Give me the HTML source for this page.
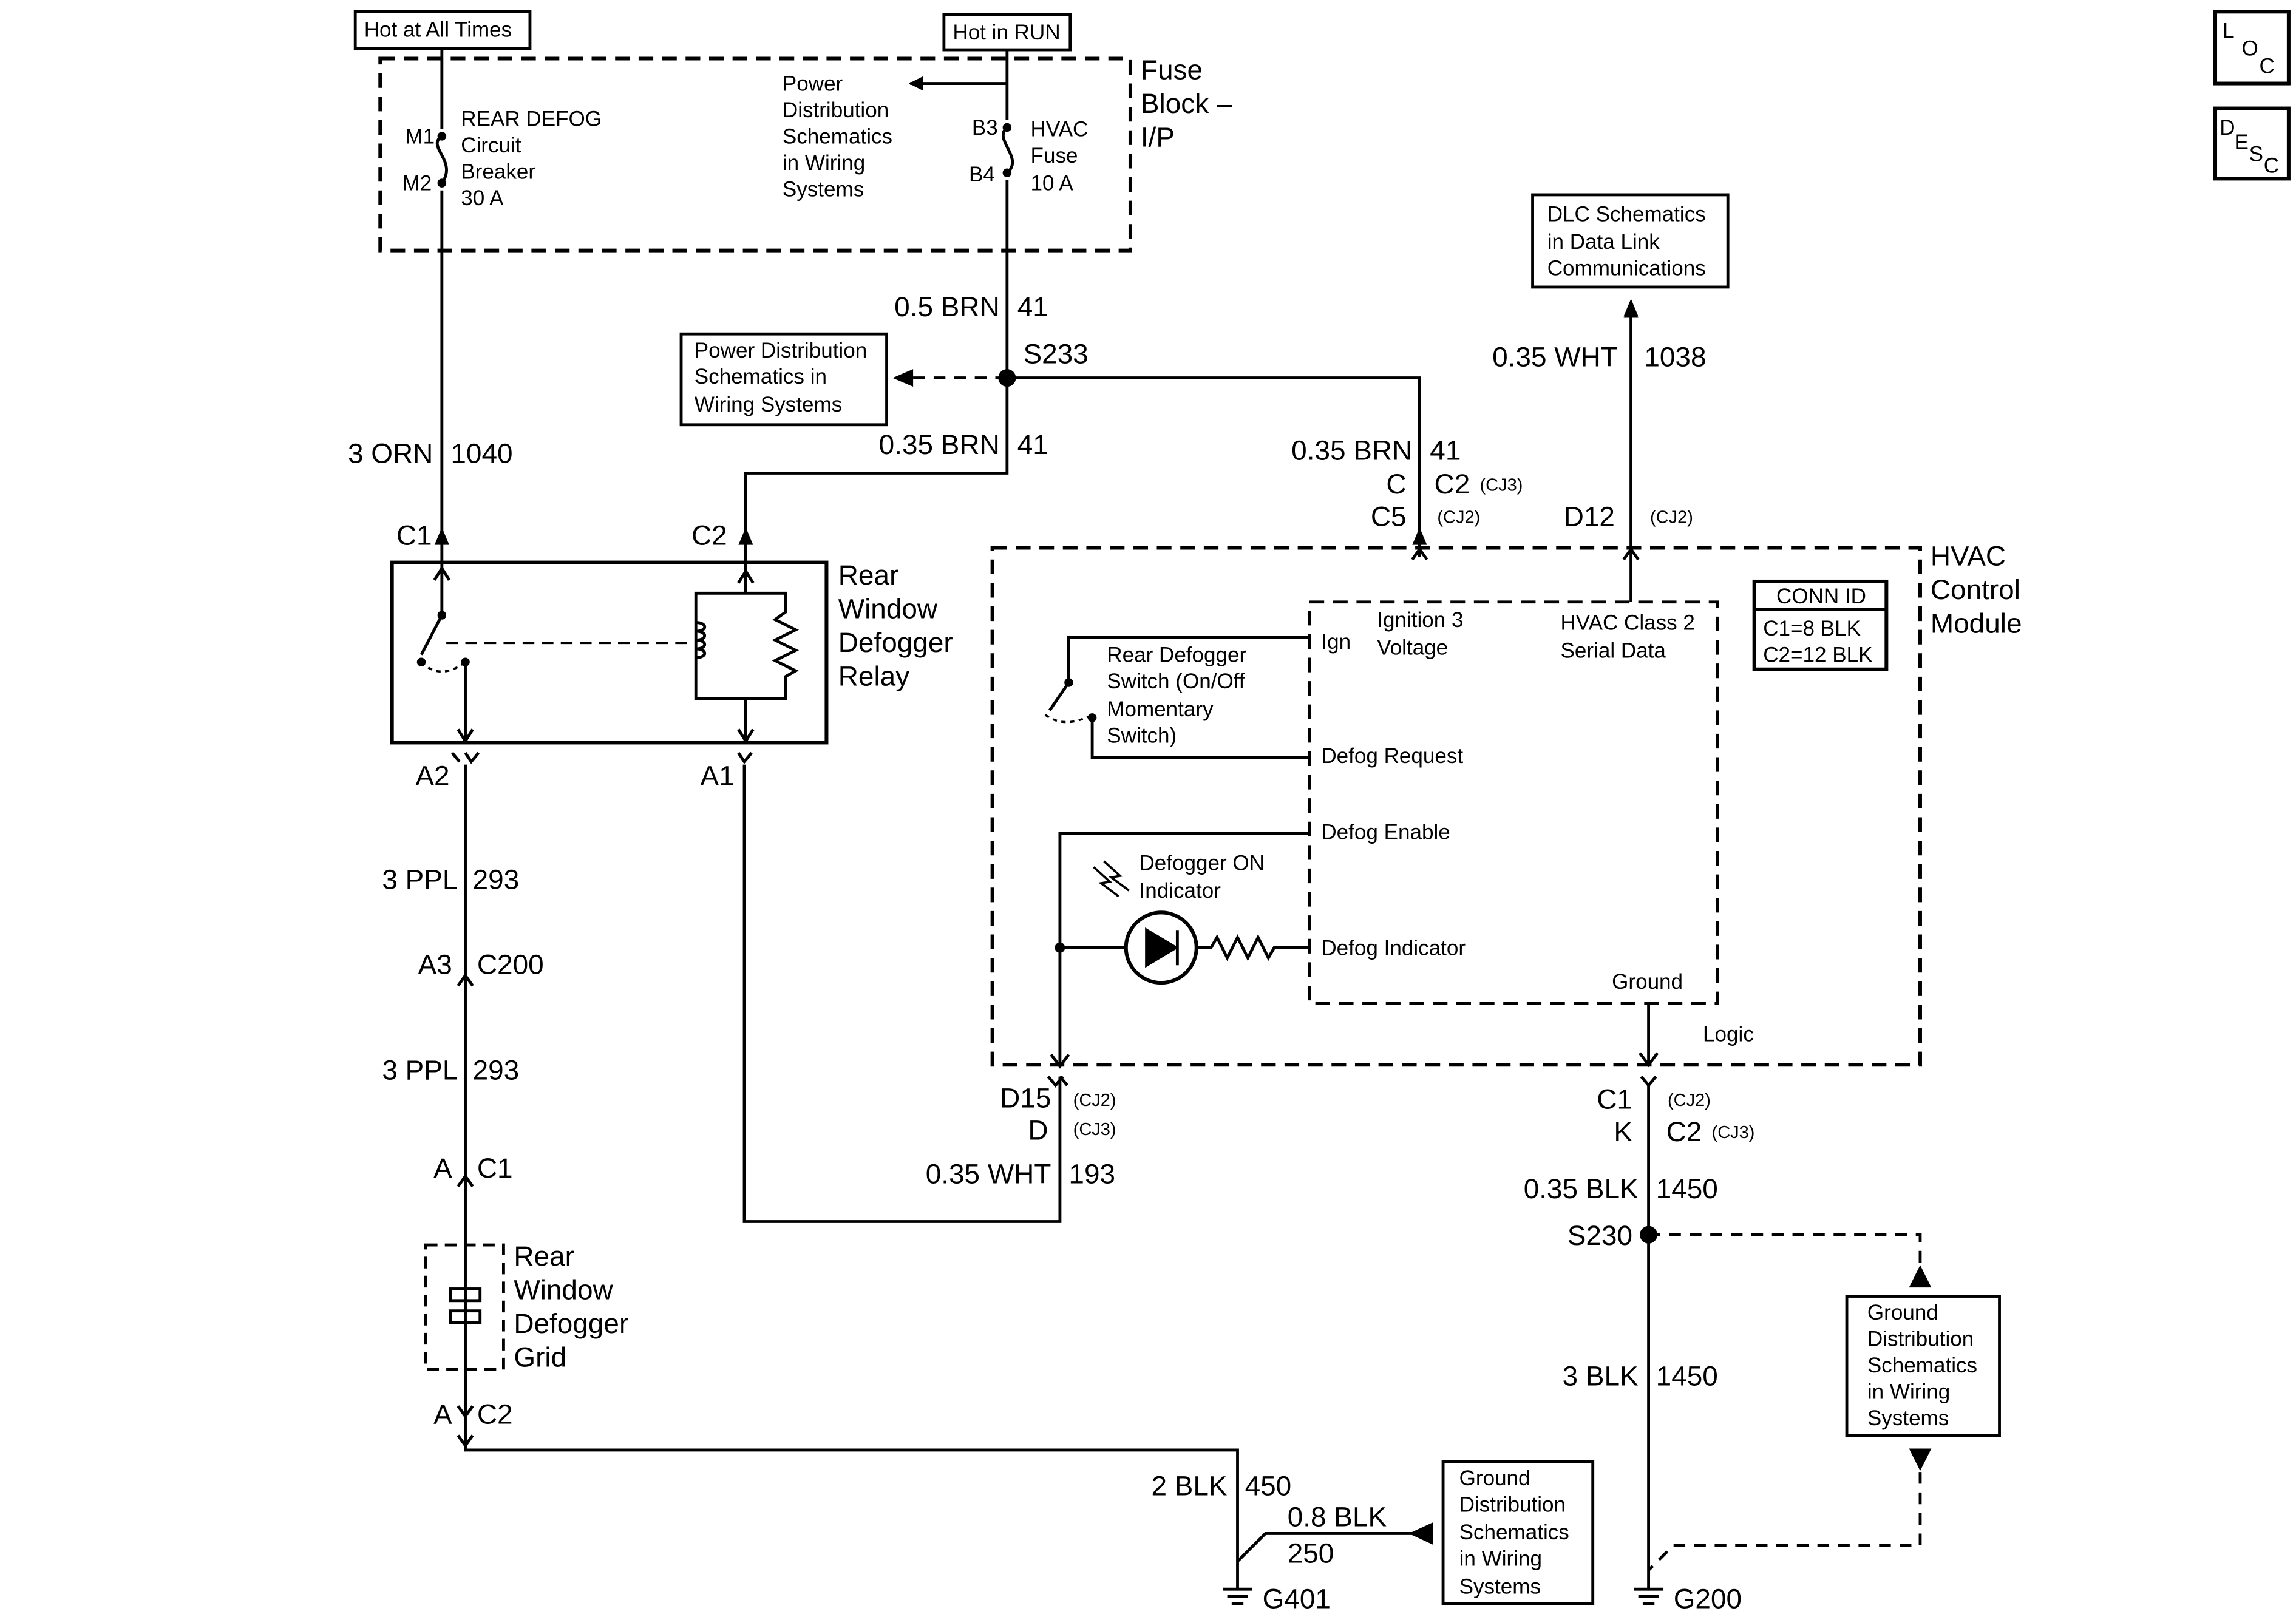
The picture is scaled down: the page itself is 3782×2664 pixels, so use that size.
<!DOCTYPE html>
<html><head><meta charset="utf-8"><style>
html,body{margin:0;padding:0;background:#fff;}
svg{display:block;}
text{font-family:"Liberation Sans",Arial,sans-serif;fill:#000;}
.L{font-size:19px;}
.S{font-size:14.5px;}
.X{font-size:12px;}
</style></head><body>
<svg width="3782" height="2664" viewBox="0 0 1564 1104" preserveAspectRatio="none" xmlns="http://www.w3.org/2000/svg">
<defs>
<marker id="ah" markerWidth="10" markerHeight="10" refX="9" refY="5" orient="auto" markerUnits="userSpaceOnUse"><path d="M0,0 L10,5 L0,10 z" fill="#000"/></marker>
</defs>
<g stroke="#000" stroke-width="2" fill="none">
<rect x="242" y="8" width="119" height="25"/>
<rect x="643" y="10" width="86" height="24"/>
<rect x="259" y="40" width="511" height="131" stroke-dasharray="10,6" stroke-width="2.5"/>
<path d="M301,33 V88 M301,130 V380"/>
<path d="M301,93 C290,100 312,110 301,125"/>
<path d="M686,34 V82 M686,123 V323 H508 V380"/>
<path d="M686,87 C676,95 698,108 686,118"/>
<path d="M686,57 H620" marker-end="url(#ah)"/>
<path d="M686,258 H620" stroke-dasharray="8,6"/>
<path d="M686,258 H967 V380"/>
<rect x="464" y="228" width="140" height="62"/>
<rect x="1044" y="133" width="133" height="63"/>
<path d="M1111,411 V208" marker-end="url(#ah)"/>
<rect x="267" y="384" width="296" height="123" stroke-width="2.5"/>
<path d="M301,380 V420 L287,447"/>
<path d="M301,388 L296,396 M301,388 L306,396"/>
<path d="M304,439 H468" stroke-dasharray="8,5" stroke-width="1.5"/>
<path d="M287,452 Q300,465 317,452" stroke-dasharray="3,3" stroke-width="1.5"/>
<path d="M317,452 V505"/>
<path d="M312,498 L317,506 L322,498"/>
<path d="M508,380 V405 H474 V477 H508 V507 M508,405 H535 V418 L528,423 L542,430 L528,437 L542,444 L528,451 L542,458 L535,462 V477 H508"/>
<path d="M474,425 c8,0 8,6 0,6 c8,0 8,6 0,6 c8,0 8,6 0,6 c8,0 8,6 0,6"/>
<path d="M503,398 L508,390 L513,398"/>
<path d="M503,498 L508,506 L513,498"/>
<path d="M317,514 L321,520 L326,514 M308,514 L313,520 M317,522 V990 H843 V1085"/>
<path d="M312,673 L317,666 L322,673 M312,810 L317,803 L322,810"/>
<path d="M312,960 L317,967 L322,960 M312,980 L317,987 L322,980"/>
<rect x="290" y="850" width="53" height="85" stroke-dasharray="8,5"/>
<rect x="307" y="880" width="20" height="8"/><rect x="307" y="895" width="20" height="8"/>
<path d="M317,935 V960"/>
<path d="M507,522 V834 H722 V735"/>
<path d="M503,514 L507,520 L512,514"/>
<path d="M843,1066 L862,1047 H962" />
<path d="M975,1041 L962,1047 L975,1053 z" fill="#000"/>
<rect x="983" y="998" width="102" height="97"/>
<path d="M833,1085 H853 M836,1090 H850 M839,1095 H847"/>
<rect x="676" y="374" width="632" height="353" stroke-dasharray="10,6" stroke-width="2.5"/>
<rect x="892" y="411" width="278" height="274" stroke-dasharray="10,6" stroke-width="2"/>
<rect x="1195" y="397" width="90" height="60" stroke-width="2.5"/>
<path d="M1195,416 H1285"/>
<path d="M962,382 L967,375 L972,382 M1106,382 L1111,375 L1116,382"/>
<path d="M892,435 H728 V466 L715,485"/>
<path d="M892,517 H744 V490"/>
<path d="M712,488 Q725,498 744,488" stroke-dasharray="3,3" stroke-width="1.5"/>
<path d="M892,569 H722 V727"/>
<path d="M716,720 L722,728 L728,720"/>
<path d="M722,647 H767 M815,647 H825 L829,640 L836,654 L843,640 L850,654 L857,640 L864,654 L868,647 H892"/>
<circle cx="791" cy="647" r="24" stroke-width="2.5"/>
<path d="M781,635 L801,647 L781,659 z" fill="#000"/><path d="M802,635 V659"/>
<path d="M745,592 L756,602 L750,603 L762,612 M752,588 L763,598 L757,599 L769,608" stroke-width="1.5"/>
<path d="M1123,685 V727"/>
<path d="M1117,719 L1123,727 L1129,719"/>
<path d="M1118,735 L1123,741 L1128,735 M714,735 L719,741 L724,735 M722,735 L727,741"/>
<path d="M1123,741 V1085 M1113,1085 H1133 M1116,1090 H1130 M1119,1095 H1127"/>
<path d="M1123,843 H1308 V880" stroke-dasharray="8,6"/>
<path d="M1302,878 L1308,866 L1314,878 z" fill="#000"/>
<rect x="1258" y="885" width="104" height="95"/>
<path d="M1302,990 L1308,1002 L1314,990 z" fill="#000"/>
<path d="M1308,1005 V1055 H1140 L1123,1072" stroke-dasharray="8,6"/>
<rect x="1509" y="8" width="50" height="49" stroke-width="2.5"/>
<rect x="1509" y="74" width="50" height="48" stroke-width="2.5"/>
</g>
<g fill="#000">
<circle cx="301" cy="93" r="3"/><circle cx="301" cy="125" r="3"/>
<circle cx="686" cy="87" r="3"/><circle cx="686" cy="118" r="3"/>
<circle cx="686" cy="258" r="6"/><circle cx="1123" cy="843" r="6"/>
<circle cx="722" cy="647" r="3.5"/><circle cx="301" cy="420" r="3"/><circle cx="317" cy="452" r="3"/>
<circle cx="728" cy="466" r="3"/><circle cx="744" cy="490" r="3"/><circle cx="287" cy="452" r="3"/>
<path d="M608,258 L622,252 L622,264 z"/>
<path d="M296,372 L301,360 L306,372 z"/><path d="M503,372 L508,360 L513,372 z"/><path d="M962,372 L967,360 L972,372 z"/>
<path d="M1106,216 L1111,204 L1116,216 z"/>
</g>
<text class="S" x="248" y="25">Hot at All Times</text>
<text class="S" x="649" y="27">Hot in RUN</text>
<text class="L" x="777" y="54">Fuse</text><text class="L" x="777" y="77">Block –</text><text class="L" x="777" y="100">I/P</text>
<text class="S" x="276" y="98">M1</text><text class="S" x="274" y="130">M2</text>
<text class="S" x="314" y="86">REAR DEFOG</text><text class="S" x="314" y="104">Circuit</text><text class="S" x="314" y="122">Breaker</text><text class="S" x="314" y="140">30 A</text>
<text class="S" x="533" y="62">Power</text><text class="S" x="533" y="80">Distribution</text><text class="S" x="533" y="98">Schematics</text><text class="S" x="533" y="116">in Wiring</text><text class="S" x="533" y="134">Systems</text>
<text class="S" x="662" y="92">B3</text><text class="S" x="660" y="124">B4</text>
<text class="S" x="702" y="93">HVAC</text><text class="S" x="702" y="111">Fuse</text><text class="S" x="702" y="130">10 A</text>
<text class="L" x="681" y="216" text-anchor="end">0.5 BRN</text><text class="L" x="693" y="216">41</text>
<text class="L" x="697" y="248">S233</text>
<text class="S" x="473" y="244">Power Distribution</text><text class="S" x="473" y="262">Schematics in</text><text class="S" x="473" y="281">Wiring Systems</text>
<text class="L" x="681" y="310" text-anchor="end">0.35 BRN</text><text class="L" x="693" y="310">41</text>
<text class="L" x="295" y="316" text-anchor="end">3 ORN</text><text class="L" x="307" y="316">1040</text>
<text class="L" x="270" y="372">C1</text><text class="L" x="471" y="372">C2</text>
<text class="L" x="571" y="399">Rear</text><text class="L" x="571" y="422">Window</text><text class="L" x="571" y="445">Defogger</text><text class="L" x="571" y="468">Relay</text>
<text class="L" x="283" y="536">A2</text><text class="L" x="477" y="536">A1</text>
<text class="L" x="312" y="607" text-anchor="end">3 PPL</text><text class="L" x="322" y="607">293</text>
<text class="L" x="308" y="665" text-anchor="end">A3</text><text class="L" x="325" y="665">C200</text>
<text class="L" x="312" y="737" text-anchor="end">3 PPL</text><text class="L" x="322" y="737">293</text>
<text class="L" x="308" y="804" text-anchor="end">A</text><text class="L" x="325" y="804">C1</text>
<text class="L" x="350" y="864">Rear</text><text class="L" x="350" y="887">Window</text><text class="L" x="350" y="910">Defogger</text><text class="L" x="350" y="933">Grid</text>
<text class="L" x="308" y="972" text-anchor="end">A</text><text class="L" x="325" y="972">C2</text>
<text class="L" x="836" y="1021" text-anchor="end">2 BLK</text><text class="L" x="848" y="1021">450</text>
<text class="L" x="877" y="1042">0.8 BLK</text><text class="L" x="877" y="1067">250</text>
<text class="L" x="860" y="1098">G401</text>
<text class="S" x="994" y="1014">Ground</text><text class="S" x="994" y="1032">Distribution</text><text class="S" x="994" y="1051">Schematics</text><text class="S" x="994" y="1069">in Wiring</text><text class="S" x="994" y="1088">Systems</text>
<text class="L" x="716" y="808" text-anchor="end">0.35 WHT</text><text class="L" x="728" y="808">193</text>
<text class="L" x="716" y="756" text-anchor="end">D15</text><text class="X" x="731" y="755">(CJ2)</text>
<text class="L" x="714" y="778" text-anchor="end">D</text><text class="X" x="731" y="775">(CJ3)</text>
<text class="L" x="1315" y="386">HVAC</text><text class="L" x="1315" y="409">Control</text><text class="L" x="1315" y="432">Module</text>
<text class="S" x="1210" y="412">CONN ID</text><text class="S" x="1201" y="434">C1=8 BLK</text><text class="S" x="1201" y="452">C2=12 BLK</text>
<text class="S" x="1054" y="151">DLC Schematics</text><text class="S" x="1054" y="170">in Data Link</text><text class="S" x="1054" y="188">Communications</text>
<text class="L" x="1102" y="250" text-anchor="end">0.35 WHT</text><text class="L" x="1120" y="250">1038</text>
<text class="L" x="962" y="314" text-anchor="end">0.35 BRN</text><text class="L" x="974" y="314">41</text>
<text class="L" x="958" y="337" text-anchor="end">C</text><text class="L" x="977" y="337">C2</text><text class="X" x="1008" y="335">(CJ3)</text>
<text class="L" x="958" y="359" text-anchor="end">C5</text><text class="X" x="979" y="357">(CJ2)</text>
<text class="L" x="1100" y="359" text-anchor="end">D12</text><text class="X" x="1124" y="357">(CJ2)</text>
<text class="S" x="900" y="443">Ign</text>
<text class="S" x="938" y="428">Ignition 3</text><text class="S" x="938" y="447">Voltage</text>
<text class="S" x="1063" y="430">HVAC Class 2</text><text class="S" x="1063" y="449">Serial Data</text>
<text class="S" x="754" y="452">Rear Defogger</text><text class="S" x="754" y="470">Switch (On/Off</text><text class="S" x="754" y="489">Momentary</text><text class="S" x="754" y="507">Switch)</text>
<text class="S" x="900" y="521">Defog Request</text>
<text class="S" x="900" y="573">Defog Enable</text>
<text class="S" x="776" y="594">Defogger ON</text><text class="S" x="776" y="613">Indicator</text>
<text class="S" x="900" y="652">Defog Indicator</text>
<text class="S" x="1098" y="675">Ground</text>
<text class="S" x="1160" y="711">Logic</text>
<text class="L" x="1112" y="757" text-anchor="end">C1</text><text class="X" x="1136" y="755">(CJ2)</text>
<text class="L" x="1112" y="779" text-anchor="end">K</text><text class="L" x="1135" y="779">C2</text><text class="X" x="1166" y="777">(CJ3)</text>
<text class="L" x="1116" y="818" text-anchor="end">0.35 BLK</text><text class="L" x="1128" y="818">1450</text>
<text class="L" x="1112" y="850" text-anchor="end">S230</text>
<text class="L" x="1116" y="946" text-anchor="end">3 BLK</text><text class="L" x="1128" y="946">1450</text>
<text class="L" x="1140" y="1098">G200</text>
<text class="S" x="1272" y="901">Ground</text><text class="S" x="1272" y="919">Distribution</text><text class="S" x="1272" y="937">Schematics</text><text class="S" x="1272" y="955">in Wiring</text><text class="S" x="1272" y="973">Systems</text>
<text class="S" x="1514" y="26">L</text><text class="S" x="1527" y="38">O</text><text class="S" x="1539" y="50">C</text>
<text class="S" x="1512" y="92">D</text><text class="S" x="1522" y="102">E</text><text class="S" x="1532" y="110">S</text><text class="S" x="1542" y="118">C</text>
<g stroke="#000" stroke-width="1.5">
<path d="M686,200 V222 M301,300 V322 M317,590 V614 M317,720 V744 M843,1005 V1027 M686,294 V316 M967,297 V320 M1111,233 V256 M722,792 V814 M1123,800 V824 M1123,930 V952"/>
</g>
</svg>
</body></html>
